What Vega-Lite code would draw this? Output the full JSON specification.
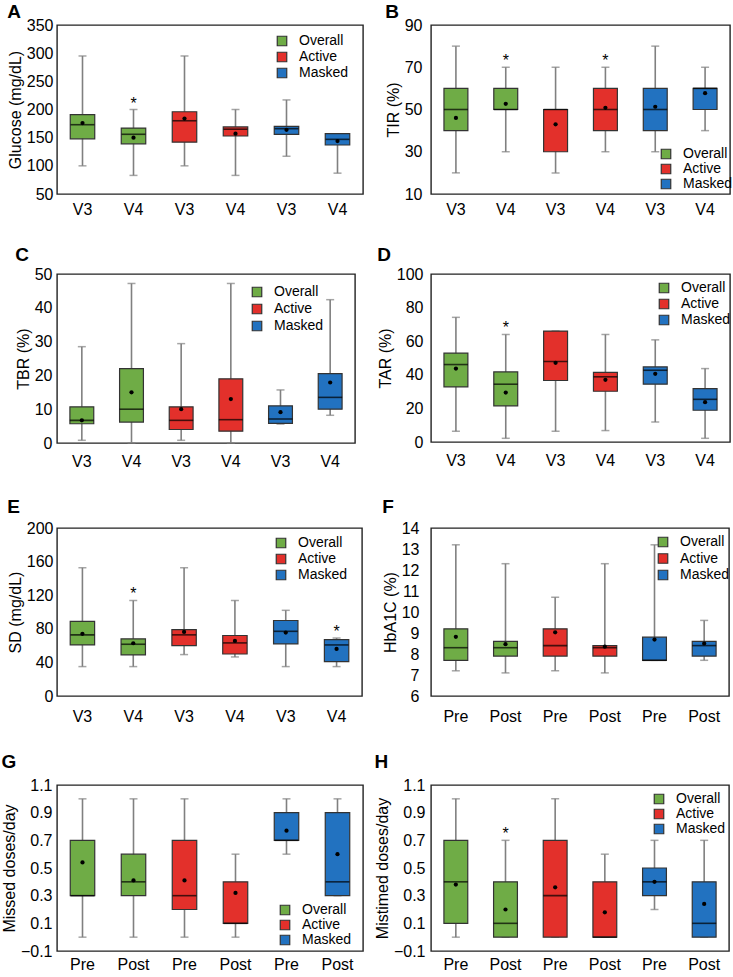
{
"$schema": "https://vega.github.io/schema/vega-lite/v6.json",
"padding": {"left": 0, "top": 2, "right": 0, "bottom": 0},
"datasets": {"box": [
{"panel":"A","group":"Overall","key":"Overall V3","min":100,"q1":148,"median":173,"q3":191,"max":295,"mean":176,"star":0},
{"panel":"A","group":"Overall","key":"Overall V4","min":83,"q1":139,"median":156,"q3":167,"max":200,"mean":150,"star":1},
{"panel":"A","group":"Active","key":"Active V3","min":100,"q1":142,"median":180,"q3":196,"max":295,"mean":184,"star":0},
{"panel":"A","group":"Active","key":"Active V4","min":83,"q1":153,"median":165,"q3":169,"max":200,"mean":157,"star":0},
{"panel":"A","group":"Masked","key":"Masked V3","min":117,"q1":156,"median":166,"q3":170,"max":217,"mean":164,"star":0},
{"panel":"A","group":"Masked","key":"Masked V4","min":87,"q1":137,"median":147,"q3":157,"max":157,"mean":144,"star":0},
{"panel":"B","group":"Overall","key":"Overall V3","min":20,"q1":40,"median":50,"q3":60,"max":80,"mean":46,"star":0},
{"panel":"B","group":"Overall","key":"Overall V4","min":30,"q1":50,"median":50,"q3":60,"max":70,"mean":52.7,"star":1},
{"panel":"B","group":"Active","key":"Active V3","min":20,"q1":30,"median":50,"q3":50,"max":70,"mean":43,"star":0},
{"panel":"B","group":"Active","key":"Active V4","min":30,"q1":40,"median":50,"q3":60,"max":70,"mean":50.8,"star":1},
{"panel":"B","group":"Masked","key":"Masked V3","min":30,"q1":40,"median":50,"q3":60,"max":80,"mean":51.3,"star":0},
{"panel":"B","group":"Masked","key":"Masked V4","min":40,"q1":50,"median":60,"q3":60,"max":70,"mean":57.7,"star":0},
{"panel":"C","group":"Overall","key":"Overall V3","min":0.8,"q1":5.7,"median":6.7,"q3":10.7,"max":28.5,"mean":6.7,"star":0},
{"panel":"C","group":"Overall","key":"Overall V4","min":0,"q1":6.2,"median":10,"q3":22,"max":47.2,"mean":15,"star":0},
{"panel":"C","group":"Active","key":"Active V3","min":0.8,"q1":4,"median":6.7,"q3":10.7,"max":29.4,"mean":10,"star":0},
{"panel":"C","group":"Active","key":"Active V4","min":0,"q1":3.5,"median":6.9,"q3":19,"max":47.2,"mean":13,"star":0},
{"panel":"C","group":"Masked","key":"Masked V3","min":5.6,"q1":5.8,"median":7.1,"q3":11,"max":15.7,"mean":9.1,"star":0},
{"panel":"C","group":"Masked","key":"Masked V4","min":8.2,"q1":10,"median":13.5,"q3":20.5,"max":42.4,"mean":17.9,"star":0},
{"panel":"D","group":"Overall","key":"Overall V3","min":6.4,"q1":32.8,"median":46.1,"q3":52.9,"max":74.2,"mean":43.7,"star":0},
{"panel":"D","group":"Overall","key":"Overall V4","min":2.2,"q1":21.5,"median":34.4,"q3":41.7,"max":64,"mean":29.4,"star":1},
{"panel":"D","group":"Active","key":"Active V3","min":6.4,"q1":36.6,"median":47.9,"q3":66,"max":66,"mean":47.1,"star":0},
{"panel":"D","group":"Active","key":"Active V4","min":6.8,"q1":30.2,"median":38.8,"q3":41.5,"max":64,"mean":37,"star":0},
{"panel":"D","group":"Masked","key":"Masked V3","min":11.9,"q1":34.4,"median":42.7,"q3":44.7,"max":60.8,"mean":40.6,"star":0},
{"panel":"D","group":"Masked","key":"Masked V4","min":2.2,"q1":18.9,"median":25.4,"q3":31.8,"max":43.7,"mean":23.7,"star":0},
{"panel":"E","group":"Overall","key":"Overall V3","min":35,"q1":60.8,"median":72.8,"q3":88.9,"max":152.7,"mean":74,"star":0},
{"panel":"E","group":"Overall","key":"Overall V4","min":35,"q1":48.9,"median":61.6,"q3":68,"max":113.7,"mean":62.8,"star":1},
{"panel":"E","group":"Active","key":"Active V3","min":49.3,"q1":60,"median":72.8,"q3":79,"max":152.7,"mean":76.3,"star":0},
{"panel":"E","group":"Active","key":"Active V4","min":46.5,"q1":50,"median":63.2,"q3":72,"max":113.7,"mean":65.6,"star":0},
{"panel":"E","group":"Masked","key":"Masked V3","min":35,"q1":62,"median":77,"q3":89.9,"max":102,"mean":75.5,"star":0},
{"panel":"E","group":"Masked","key":"Masked V4","min":35,"q1":41,"median":60.8,"q3":67,"max":69,"mean":56,"star":1},
{"panel":"F","group":"Overall","key":"Overall Pre","min":7.2,"q1":7.7,"median":8.3,"q3":9.2,"max":13.2,"mean":8.82,"star":0},
{"panel":"F","group":"Overall","key":"Overall Post","min":7.1,"q1":7.9,"median":8.3,"q3":8.6,"max":12.3,"mean":8.47,"star":0},
{"panel":"F","group":"Active","key":"Active Pre","min":7.2,"q1":7.9,"median":8.4,"q3":9.2,"max":10.7,"mean":9.03,"star":0},
{"panel":"F","group":"Active","key":"Active Post","min":7.1,"q1":7.9,"median":8.3,"q3":8.4,"max":12.3,"mean":8.35,"star":0},
{"panel":"F","group":"Masked","key":"Masked Pre","min":7.7,"q1":7.7,"median":7.7,"q3":8.8,"max":13.2,"mean":8.69,"star":0},
{"panel":"F","group":"Masked","key":"Masked Post","min":7.7,"q1":7.9,"median":8.4,"q3":8.6,"max":9.6,"mean":8.5,"star":0},
{"panel":"G","group":"Overall","key":"Overall Pre","min":0,"q1":0.3,"median":0.3,"q3":0.7,"max":1.0,"mean":0.54,"star":0},
{"panel":"G","group":"Overall","key":"Overall Post","min":0,"q1":0.3,"median":0.4,"q3":0.6,"max":1.0,"mean":0.41,"star":0},
{"panel":"G","group":"Active","key":"Active Pre","min":0,"q1":0.2,"median":0.3,"q3":0.7,"max":1.0,"mean":0.41,"star":0},
{"panel":"G","group":"Active","key":"Active Post","min":0,"q1":0.1,"median":0.1,"q3":0.4,"max":0.6,"mean":0.32,"star":0},
{"panel":"G","group":"Masked","key":"Masked Pre","min":0.6,"q1":0.7,"median":0.7,"q3":0.9,"max":1.0,"mean":0.77,"star":0},
{"panel":"G","group":"Masked","key":"Masked Post","min":0.3,"q1":0.3,"median":0.4,"q3":0.9,"max":1.0,"mean":0.6,"star":0},
{"panel":"H","group":"Overall","key":"Overall Pre","min":0,"q1":0.1,"median":0.4,"q3":0.7,"max":1.0,"mean":0.38,"star":0},
{"panel":"H","group":"Overall","key":"Overall Post","min":0,"q1":0,"median":0.1,"q3":0.4,"max":0.7,"mean":0.2,"star":1},
{"panel":"H","group":"Active","key":"Active Pre","min":0,"q1":0,"median":0.3,"q3":0.7,"max":1.0,"mean":0.36,"star":0},
{"panel":"H","group":"Active","key":"Active Post","min":0,"q1":0,"median":0,"q3":0.4,"max":0.6,"mean":0.18,"star":0},
{"panel":"H","group":"Masked","key":"Masked Pre","min":0.2,"q1":0.3,"median":0.4,"q3":0.5,"max":0.7,"mean":0.4,"star":0},
{"panel":"H","group":"Masked","key":"Masked Post","min":0,"q1":0,"median":0.1,"q3":0.4,"max":0.7,"mean":0.24,"star":0}
]},
"data": {"name": "box"},
"columns": 2,
"align": "each",
"spacing": {"row": 27, "column": 9},
"resolve": {"scale": {"color": "independent", "x": "independent", "y": "independent"}, "legend": {"color": "independent"}},
"concat": [
{"width": 306, "height": 169, "title": {"text": "A", "offset": -5},
 "transform": [{"filter": "datum.panel == 'A'"}],
 "encoding": {"x": {"field": "key", "type": "nominal", "sort": null, "scale": {"paddingInner": 0, "paddingOuter": 0}, "axis": {"labelExpr": "split(datum.label, ' ')[1]", "labelAngle": 0, "title": null, "labelPadding": 7}}},
 "layer": [
  {"mark": "rule", "encoding": {"y": {"field": "min", "type": "quantitative", "scale": {"domain": [50, 350], "nice": false, "zero": false}, "axis": {"values": [50, 100, 150, 200, 250, 300, 350], "tickCount": 20, "labelOverlap": false, "format": "d", "title": "Glucose (mg/dL)", "labelPadding": 4}}, "y2": {"field": "max"}}},
  {"mark": {"type": "tick", "size": 8, "thickness": 1.5, "color": "#808080"}, "encoding": {"y": {"field": "min", "type": "quantitative"}}},
  {"mark": {"type": "tick", "size": 8, "thickness": 1.5, "color": "#808080"}, "encoding": {"y": {"field": "max", "type": "quantitative"}}},
  {"mark": {"type": "bar", "width": {"band": 0.48}}, "encoding": {"y": {"field": "q1", "type": "quantitative"}, "y2": {"field": "q3"}, "color": {"field": "group", "type": "nominal", "scale": {"domain": ["Overall", "Active", "Masked"], "range": ["#6FAC46", "#E3302B", "#2272C0"]}, "legend": {"title": null, "orient": "none", "legendX": 218, "legendY": 9, "rowPadding": 0}}}},
  {"mark": {"type": "tick", "size": 24, "thickness": 1.6, "color": "black"}, "encoding": {"y": {"field": "median", "type": "quantitative"}}},
  {"mark": "point", "encoding": {"y": {"field": "mean", "type": "quantitative"}}},
  {"transform": [{"filter": "datum.star == 1"}], "mark": {"type": "text", "text": "*", "baseline": "alphabetic", "dy": -1}, "encoding": {"y": {"field": "max", "type": "quantitative"}}}
 ]},
{"width": 299, "height": 169, "title": {"text": "B", "offset": -5},
 "transform": [{"filter": "datum.panel == 'B'"}],
 "encoding": {"x": {"field": "key", "type": "nominal", "sort": null, "scale": {"paddingInner": 0, "paddingOuter": 0}, "axis": {"labelExpr": "split(datum.label, ' ')[1]", "labelAngle": 0, "title": null, "labelPadding": 7}}},
 "layer": [
  {"mark": "rule", "encoding": {"y": {"field": "min", "type": "quantitative", "scale": {"domain": [10, 90], "nice": false, "zero": false}, "axis": {"values": [10, 30, 50, 70, 90], "tickCount": 20, "labelOverlap": false, "format": "d", "title": "TIR (%)", "labelPadding": 9}}, "y2": {"field": "max"}}},
  {"mark": {"type": "tick", "size": 8, "thickness": 1.5, "color": "#808080"}, "encoding": {"y": {"field": "min", "type": "quantitative"}}},
  {"mark": {"type": "tick", "size": 8, "thickness": 1.5, "color": "#808080"}, "encoding": {"y": {"field": "max", "type": "quantitative"}}},
  {"mark": {"type": "bar", "width": {"band": 0.48}}, "encoding": {"y": {"field": "q1", "type": "quantitative"}, "y2": {"field": "q3"}, "color": {"field": "group", "type": "nominal", "scale": {"domain": ["Overall", "Active", "Masked"], "range": ["#6FAC46", "#E3302B", "#2272C0"]}, "legend": {"title": null, "orient": "none", "legendX": 228, "legendY": 122, "rowPadding": -2}}}},
  {"mark": {"type": "tick", "size": 24, "thickness": 1.6, "color": "black"}, "encoding": {"y": {"field": "median", "type": "quantitative"}}},
  {"mark": "point", "encoding": {"y": {"field": "mean", "type": "quantitative"}}},
  {"transform": [{"filter": "datum.star == 1"}], "mark": {"type": "text", "text": "*", "baseline": "alphabetic", "dy": -1}, "encoding": {"y": {"field": "max", "type": "quantitative"}}}
 ]},
{"width": 298, "height": 169, "title": {"text": "C", "offset": 1},
 "transform": [{"filter": "datum.panel == 'C'"}],
 "encoding": {"x": {"field": "key", "type": "nominal", "sort": null, "scale": {"paddingInner": 0, "paddingOuter": 0}, "axis": {"labelExpr": "split(datum.label, ' ')[1]", "labelAngle": 0, "title": null, "labelPadding": 10}}},
 "layer": [
  {"mark": "rule", "encoding": {"y": {"field": "min", "type": "quantitative", "scale": {"domain": [0, 50], "nice": false, "zero": false}, "axis": {"values": [0, 10, 20, 30, 40, 50], "tickCount": 20, "labelOverlap": false, "format": "d", "title": "TBR (%)", "labelPadding": 5}}, "y2": {"field": "max"}}},
  {"mark": {"type": "tick", "size": 8, "thickness": 1.5, "color": "#808080"}, "encoding": {"y": {"field": "min", "type": "quantitative"}}},
  {"mark": {"type": "tick", "size": 8, "thickness": 1.5, "color": "#808080"}, "encoding": {"y": {"field": "max", "type": "quantitative"}}},
  {"mark": {"type": "bar", "width": {"band": 0.48}}, "encoding": {"y": {"field": "q1", "type": "quantitative"}, "y2": {"field": "q3"}, "color": {"field": "group", "type": "nominal", "scale": {"domain": ["Overall", "Active", "Masked"], "range": ["#6FAC46", "#E3302B", "#2272C0"]}, "legend": {"title": null, "orient": "none", "legendX": 193, "legendY": 11, "rowPadding": 1}}}},
  {"mark": {"type": "tick", "size": 24, "thickness": 1.6, "color": "black"}, "encoding": {"y": {"field": "median", "type": "quantitative"}}},
  {"mark": "point", "encoding": {"y": {"field": "mean", "type": "quantitative"}}},
  {"transform": [{"filter": "datum.star == 1"}], "mark": {"type": "text", "text": "*", "baseline": "alphabetic", "dy": -1}, "encoding": {"y": {"field": "max", "type": "quantitative"}}}
 ]},
{"width": 299, "height": 168, "title": {"text": "D", "offset": 1},
 "transform": [{"filter": "datum.panel == 'D'"}],
 "encoding": {"x": {"field": "key", "type": "nominal", "sort": null, "scale": {"paddingInner": 0, "paddingOuter": 0}, "axis": {"labelExpr": "split(datum.label, ' ')[1]", "labelAngle": 0, "title": null, "labelPadding": 10}}},
 "layer": [
  {"mark": "rule", "encoding": {"y": {"field": "min", "type": "quantitative", "scale": {"domain": [0, 100], "nice": false, "zero": false}, "axis": {"values": [0, 20, 40, 60, 80, 100], "tickCount": 20, "labelOverlap": false, "format": "d", "title": "TAR (%)", "labelPadding": 8}}, "y2": {"field": "max"}}},
  {"mark": {"type": "tick", "size": 8, "thickness": 1.5, "color": "#808080"}, "encoding": {"y": {"field": "min", "type": "quantitative"}}},
  {"mark": {"type": "tick", "size": 8, "thickness": 1.5, "color": "#808080"}, "encoding": {"y": {"field": "max", "type": "quantitative"}}},
  {"mark": {"type": "bar", "width": {"band": 0.48}}, "encoding": {"y": {"field": "q1", "type": "quantitative"}, "y2": {"field": "q3"}, "color": {"field": "group", "type": "nominal", "scale": {"domain": ["Overall", "Active", "Masked"], "range": ["#6FAC46", "#E3302B", "#2272C0"]}, "legend": {"title": null, "orient": "none", "legendX": 226, "legendY": 7, "rowPadding": 0}}}},
  {"mark": {"type": "tick", "size": 24, "thickness": 1.6, "color": "black"}, "encoding": {"y": {"field": "median", "type": "quantitative"}}},
  {"mark": "point", "encoding": {"y": {"field": "mean", "type": "quantitative"}}},
  {"transform": [{"filter": "datum.star == 1"}], "mark": {"type": "text", "text": "*", "baseline": "alphabetic", "dy": -1}, "encoding": {"y": {"field": "max", "type": "quantitative"}}}
 ]},
{"width": 305, "height": 168, "title": {"text": "E", "offset": 3},
 "transform": [{"filter": "datum.panel == 'E'"}],
 "encoding": {"x": {"field": "key", "type": "nominal", "sort": null, "scale": {"paddingInner": 0, "paddingOuter": 0}, "axis": {"labelExpr": "split(datum.label, ' ')[1]", "labelAngle": 0, "title": null, "labelPadding": 12}}},
 "layer": [
  {"mark": "rule", "encoding": {"y": {"field": "min", "type": "quantitative", "scale": {"domain": [0, 200], "nice": false, "zero": false}, "axis": {"values": [0, 40, 80, 120, 160, 200], "tickCount": 20, "labelOverlap": false, "format": "d", "title": "SD (mg/dL)", "labelPadding": 4}}, "y2": {"field": "max"}}},
  {"mark": {"type": "tick", "size": 8, "thickness": 1.5, "color": "#808080"}, "encoding": {"y": {"field": "min", "type": "quantitative"}}},
  {"mark": {"type": "tick", "size": 8, "thickness": 1.5, "color": "#808080"}, "encoding": {"y": {"field": "max", "type": "quantitative"}}},
  {"mark": {"type": "bar", "width": {"band": 0.48}}, "encoding": {"y": {"field": "q1", "type": "quantitative"}, "y2": {"field": "q3"}, "color": {"field": "group", "type": "nominal", "scale": {"domain": ["Overall", "Active", "Masked"], "range": ["#6FAC46", "#E3302B", "#2272C0"]}, "legend": {"title": null, "orient": "none", "legendX": 217, "legendY": 8, "rowPadding": 0}}}},
  {"mark": {"type": "tick", "size": 24, "thickness": 1.6, "color": "black"}, "encoding": {"y": {"field": "median", "type": "quantitative"}}},
  {"mark": "point", "encoding": {"y": {"field": "mean", "type": "quantitative"}}},
  {"transform": [{"filter": "datum.star == 1"}], "mark": {"type": "text", "text": "*", "baseline": "alphabetic", "dy": -1}, "encoding": {"y": {"field": "max", "type": "quantitative"}}}
 ]},
{"width": 298, "height": 168, "title": {"text": "F", "offset": 3},
 "transform": [{"filter": "datum.panel == 'F'"}],
 "encoding": {"x": {"field": "key", "type": "nominal", "sort": null, "scale": {"paddingInner": 0, "paddingOuter": 0}, "axis": {"labelExpr": "split(datum.label, ' ')[1]", "labelAngle": 0, "title": null, "labelPadding": 12}}},
 "layer": [
  {"mark": "rule", "encoding": {"y": {"field": "min", "type": "quantitative", "scale": {"domain": [6, 14], "nice": false, "zero": false}, "axis": {"values": [6, 7, 8, 9, 10, 11, 12, 13, 14], "tickCount": 20, "labelOverlap": false, "format": "d", "title": "HbA1C (%)", "labelPadding": 12}}, "y2": {"field": "max"}}},
  {"mark": {"type": "tick", "size": 8, "thickness": 1.5, "color": "#808080"}, "encoding": {"y": {"field": "min", "type": "quantitative"}}},
  {"mark": {"type": "tick", "size": 8, "thickness": 1.5, "color": "#808080"}, "encoding": {"y": {"field": "max", "type": "quantitative"}}},
  {"mark": {"type": "bar", "width": {"band": 0.48}}, "encoding": {"y": {"field": "q1", "type": "quantitative"}, "y2": {"field": "q3"}, "color": {"field": "group", "type": "nominal", "scale": {"domain": ["Overall", "Active", "Masked"], "range": ["#6FAC46", "#E3302B", "#2272C0"]}, "legend": {"title": null, "orient": "none", "legendX": 225, "legendY": 7, "rowPadding": 0.5}}}},
  {"mark": {"type": "tick", "size": 24, "thickness": 1.6, "color": "black"}, "encoding": {"y": {"field": "median", "type": "quantitative"}}},
  {"mark": "point", "encoding": {"y": {"field": "mean", "type": "quantitative"}}},
  {"transform": [{"filter": "datum.star == 1"}], "mark": {"type": "text", "text": "*", "baseline": "alphabetic", "dy": -1}, "encoding": {"y": {"field": "max", "type": "quantitative"}}}
 ]},
{"width": 306, "height": 166, "title": {"text": "G", "offset": 5},
 "transform": [{"filter": "datum.panel == 'G'"}],
 "encoding": {"x": {"field": "key", "type": "nominal", "sort": null, "scale": {"paddingInner": 0, "paddingOuter": 0}, "axis": {"labelExpr": "split(datum.label, ' ')[1]", "labelAngle": 0, "title": null, "labelPadding": 5}}},
 "layer": [
  {"mark": "rule", "encoding": {"y": {"field": "min", "type": "quantitative", "scale": {"domain": [-0.1, 1.1], "nice": false, "zero": false}, "axis": {"values": [-0.1, 0.1, 0.3, 0.5, 0.7, 0.9, 1.1], "tickCount": 20, "labelOverlap": false, "format": ".1f", "title": "Missed doses/day", "labelPadding": 5}}, "y2": {"field": "max"}}},
  {"mark": {"type": "tick", "size": 8, "thickness": 1.5, "color": "#808080"}, "encoding": {"y": {"field": "min", "type": "quantitative"}}},
  {"mark": {"type": "tick", "size": 8, "thickness": 1.5, "color": "#808080"}, "encoding": {"y": {"field": "max", "type": "quantitative"}}},
  {"mark": {"type": "bar", "width": {"band": 0.48}}, "encoding": {"y": {"field": "q1", "type": "quantitative"}, "y2": {"field": "q3"}, "color": {"field": "group", "type": "nominal", "scale": {"domain": ["Overall", "Active", "Masked"], "range": ["#6FAC46", "#E3302B", "#2272C0"]}, "legend": {"title": null, "orient": "none", "legendX": 221, "legendY": 118, "rowPadding": -2}}}},
  {"mark": {"type": "tick", "size": 24, "thickness": 1.6, "color": "black"}, "encoding": {"y": {"field": "median", "type": "quantitative"}}},
  {"mark": "point", "encoding": {"y": {"field": "mean", "type": "quantitative"}}},
  {"transform": [{"filter": "datum.star == 1"}], "mark": {"type": "text", "text": "*", "baseline": "alphabetic", "dy": -1}, "encoding": {"y": {"field": "max", "type": "quantitative"}}}
 ]},
{"width": 298, "height": 166, "title": {"text": "H", "offset": 5},
 "transform": [{"filter": "datum.panel == 'H'"}],
 "encoding": {"x": {"field": "key", "type": "nominal", "sort": null, "scale": {"paddingInner": 0, "paddingOuter": 0}, "axis": {"labelExpr": "split(datum.label, ' ')[1]", "labelAngle": 0, "title": null, "labelPadding": 5}}},
 "layer": [
  {"mark": "rule", "encoding": {"y": {"field": "min", "type": "quantitative", "scale": {"domain": [-0.1, 1.1], "nice": false, "zero": false}, "axis": {"values": [-0.1, 0.1, 0.3, 0.5, 0.7, 0.9, 1.1], "tickCount": 20, "labelOverlap": false, "format": ".1f", "title": "Mistimed doses/day", "labelPadding": 6}}, "y2": {"field": "max"}}},
  {"mark": {"type": "tick", "size": 8, "thickness": 1.5, "color": "#808080"}, "encoding": {"y": {"field": "min", "type": "quantitative"}}},
  {"mark": {"type": "tick", "size": 8, "thickness": 1.5, "color": "#808080"}, "encoding": {"y": {"field": "max", "type": "quantitative"}}},
  {"mark": {"type": "bar", "width": {"band": 0.48}}, "encoding": {"y": {"field": "q1", "type": "quantitative"}, "y2": {"field": "q3"}, "color": {"field": "group", "type": "nominal", "scale": {"domain": ["Overall", "Active", "Masked"], "range": ["#6FAC46", "#E3302B", "#2272C0"]}, "legend": {"title": null, "orient": "none", "legendX": 221, "legendY": 7, "rowPadding": -2}}}},
  {"mark": {"type": "tick", "size": 24, "thickness": 1.6, "color": "black"}, "encoding": {"y": {"field": "median", "type": "quantitative"}}},
  {"mark": "point", "encoding": {"y": {"field": "mean", "type": "quantitative"}}},
  {"transform": [{"filter": "datum.star == 1"}], "mark": {"type": "text", "text": "*", "baseline": "alphabetic", "dy": -1}, "encoding": {"y": {"field": "max", "type": "quantitative"}}}
 ]}
],
"config": {
 "font": "Liberation Sans",
 "view": {"stroke": "#222222", "strokeWidth": 1.4},
 "title": {"anchor": "start", "frame": "bounds", "fontSize": 19, "fontWeight": "bold", "color": "black"},
 "axis": {"domain": false, "ticks": false, "tickSize": 0, "grid": false, "labelOverlap": false, "labelFontSize": 16, "labelColor": "black", "titleFontSize": 16, "titleFontWeight": "normal", "titleColor": "black", "titlePadding": 3},
 "legend": {"labelFontSize": 14, "labelColor": "black", "symbolType": "square", "symbolSize": 90, "symbolStrokeColor": "#333333", "symbolStrokeWidth": 1, "labelOffset": 10, "padding": 0},
 "bar": {"stroke": "#333333", "strokeWidth": 1.2},
 "rule": {"color": "#808080", "strokeWidth": 1.6},
 "point": {"filled": true, "color": "black", "size": 18, "opacity": 1},
 "text": {"fontSize": 16, "color": "black"}
}
}
